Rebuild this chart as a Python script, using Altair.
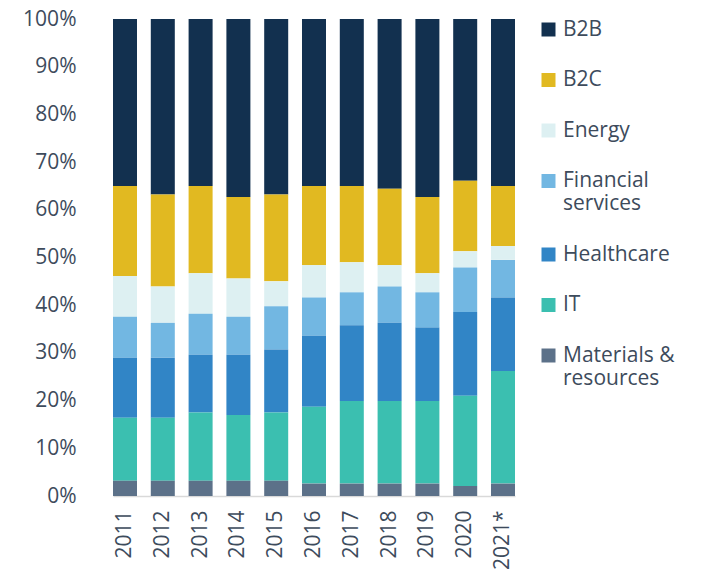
import altair as alt
import pandas as pd

years = ["2011", "2012", "2013", "2014", "2015", "2016", "2017", "2018", "2019", "2020", "2021*"]
categories = ["B2B", "B2C", "Energy", "Financial services", "Healthcare", "IT", "Materials & resources"]
colors = ["#12304f", "#e1b921", "#ddf0f2", "#72b7e2", "#3185c6", "#3bbfb0", "#5c7189"]

b2b = [35.0, 36.8, 35.0, 37.3, 36.8, 35.0, 35.0, 35.6, 37.3, 33.9, 35.0]
b2c = [18.9, 19.3, 18.3, 17.1, 18.2, 16.6, 16.0, 16.0, 16.0, 14.8, 12.6]
energy = [8.5, 7.6, 8.5, 8.0, 5.2, 6.8, 6.3, 4.5, 4.0, 3.4, 2.9]
financial = [8.6, 7.3, 8.6, 8.0, 9.1, 8.0, 6.9, 7.6, 7.4, 9.3, 7.9]
healthcare = [12.6, 12.6, 12.1, 12.6, 13.2, 14.9, 15.9, 16.4, 15.4, 17.6, 15.4]
it = [13.2, 13.2, 14.3, 13.8, 14.3, 16.1, 17.3, 17.3, 17.3, 18.9, 23.6]
materials = [3.2, 3.2, 3.2, 3.2, 3.2, 2.6, 2.6, 2.6, 2.6, 2.1, 2.6]

series = [b2b, b2c, energy, financial, healthcare, it, materials]

rows = []
for ci, (cat, vals) in enumerate(zip(categories, series)):
    for y, v in zip(years, vals):
        rows.append({"year": y, "sector": cat, "share": v / 100.0, "stack_order": len(categories) - 1 - ci})
df = pd.DataFrame(rows)

text_color = "#3d4b5c"
font = "Open Sans"

label_expr = ("datum.label == 'Financial services' ? ['Financial', 'services'] : "
              "datum.label == 'Materials & resources' ? ['Materials &', 'resources'] : datum.label")

chart = alt.Chart(df).mark_bar().encode(
    x=alt.X("year:N", sort=years, title=None,
            scale=alt.Scale(paddingInner=0.365, paddingOuter=0),
            axis=alt.Axis(labelAngle=270, labelFontSize=21, labelColor=text_color, labelFont=font,
                          labelPadding=14, ticks=False, domainColor="#d9d9d9", domainWidth=1.5,
                          labelAlign="right", labelBaseline="middle")),
    y=alt.Y("share:Q", stack="zero", title=None,
            scale=alt.Scale(domain=[0, 1], nice=False),
            axis=alt.Axis(format=".0%", values=[0, 0.1, 0.2, 0.3, 0.4, 0.5, 0.6, 0.7, 0.8, 0.9, 1.0],
                          labelFontSize=21, labelColor=text_color, labelFont=font,
                          grid=False, domain=False, ticks=False, labelPadding=37)),
    color=alt.Color("sector:N", title=None,
                    scale=alt.Scale(domain=categories, range=colors),
                    legend=alt.Legend(orient="none", legendX=425, legendY=0, padding=0,
                                      symbolType="square", symbolSize=196, symbolStrokeWidth=0,
                                      labelFontSize=21, labelColor=text_color, labelFont=font,
                                      labelOffset=4, rowPadding=28.5, labelLimit=300,
                                      labelExpr=label_expr)),
    order=alt.Order("stack_order:Q", sort="ascending"),
).properties(
    width=402, height=477,
    autosize=alt.AutoSizeParams(type="none"),
    padding={"left": 105, "top": 11, "right": 182, "bottom": 80},
).configure_view(stroke=None)

chart.save("out.html", embed_options={"renderer": "svg", "actions": False})
